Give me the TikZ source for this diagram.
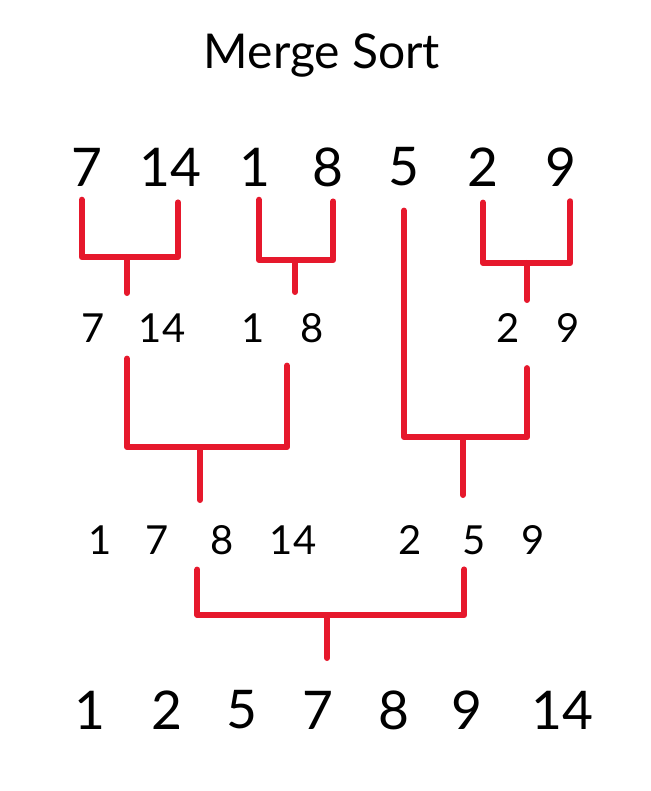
\documentclass[tikz,border=0pt]{standalone}
\usepackage{fontspec}
\setmainfont{Lato}
\definecolor{mergered}{RGB}{230,24,44}
\begin{document}
\begin{tikzpicture}[x=.75pt,y=-.75pt,
  num/.style={inner sep=0pt,font=\fontsize{40}{48}\selectfont},
  sub/.style={inner sep=0pt,font=\fontsize{30}{36}\selectfont},
  merge/.style={draw=mergered,line width=4.5pt,line cap=round,line join=round}]
\useasboundingbox (0,0) rectangle (650,791);
\node[font=\fontsize{36}{43}\selectfont] (title) at (322,55) {Merge Sort};
\node[num] (t7) at (87,167) {7};
\node[num] (t14) at (170,167) {14};
\node[num] (t1) at (255,167) {1};
\node[num] (t8) at (328,167) {8};
\node[num] (t5) at (404,167) {5};
\node[num] (t2) at (483,167) {2};
\node[num] (t9) at (561,167) {9};
\node[sub] (m7) at (93,328) {7};
\node[sub] (m14) at (162,328) {14};
\node[sub] (m1) at (253,328) {1};
\node[sub] (m8) at (312,328) {8};
\node[sub] (m2) at (508,328) {2};
\node[sub] (m9) at (568,328) {9};
\node[sub] (h1) at (100,540) {1};
\node[sub] (h7) at (157,540) {7};
\node[sub] (h8) at (222,540) {8};
\node[sub] (h14) at (293,540) {14};
\node[sub] (h2) at (410,540) {2};
\node[sub] (h5) at (474,540) {5};
\node[sub] (h9) at (533,540) {9};
\node[num] (r1) at (90,710) {1};
\node[num] (r2) at (167,710) {2};
\node[num] (r5) at (242,710) {5};
\node[num] (r7) at (318,710) {7};
\node[num] (r8) at (394,710) {8};
\node[num] (r9) at (467,710) {9};
\node[num] (r14) at (562,710) {14};
\coordinate (jA) at (127,257);
\coordinate (jB) at (295,260);
\coordinate (jC) at (527,263);
\coordinate (jD) at (200,447);
\coordinate (jE) at (463,437);
\coordinate (jF) at (327,615);
\draw[merge] ([xshift=-4pt,yshift=-10pt]t7.south) |- (jA) -| ([xshift=6pt,yshift=-12pt]t14.south);
\draw[merge] (jA) -- ++(0,36);
\draw[merge] ([xshift=3pt,yshift=-10pt]t1.south) |- (jB) -| ([xshift=4pt,yshift=-11pt]t8.south);
\draw[merge] (jB) -- ++(0,32);
\draw[merge] ([yshift=-12pt]t2.south) |- (jC) -| ([xshift=7pt,yshift=-11pt]t9.south);
\draw[merge] (jC) -- ++(0,37);
\draw[merge] ([yshift=-12pt]m7.south -| jA) |- (jD) -| ([xshift=-6pt,yshift=-17pt]m8.south -| jB);
\draw[merge] (jD) -- ++(0,53);
\draw[merge] ([yshift=-18pt]t5.south) |- (jE) -| ([yshift=-19pt]m9.south -| jC);
\draw[merge] (jE) -- ++(0,58);
\draw[merge] ([xshift=-2pt,yshift=-11pt]h8.south -| jD) |- (jF) -| ([xshift=1pt,yshift=-11pt]h5.south -| jE);
\draw[merge] (jF) -- ++(0,43);
\end{tikzpicture}
\end{document}
